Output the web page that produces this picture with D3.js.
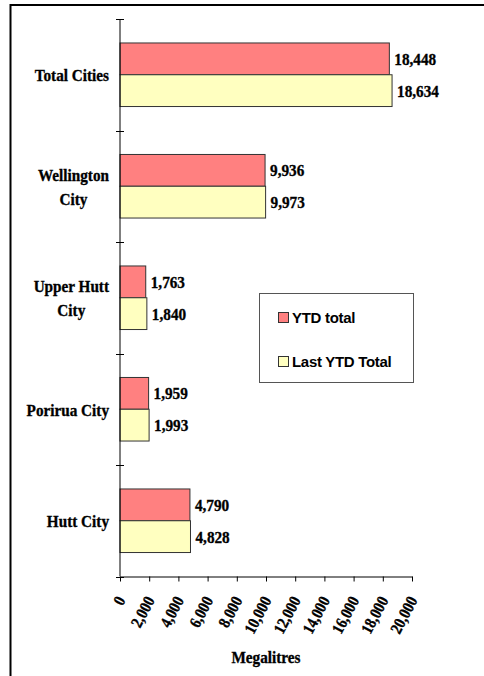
<!DOCTYPE html>
<html>
<head>
<meta charset="utf-8">
<script src="https://cdn.jsdelivr.net/npm/d3@7"></script>
<style>
  body { margin: 0; background: #fff; }
  svg { display: block; }
</style>
</head>
<body>
<svg id="chart"></svg>
<script>
// Chart data, top to bottom as drawn
const categories = ['Total Cities', 'Wellington City', 'Upper Hutt City', 'Porirua City', 'Hutt City'];
const categoryLines = [['Total Cities'], ['Wellington', 'City'], ['Upper Hutt', 'City'], ['Porirua City'], ['Hutt City']];
const seriesNames = ['YTD total', 'Last YTD Total'];
const ytdTotal = [18448, 9936, 1763, 1959, 4790];
const lastYtdTotal = [18634, 9973, 1840, 1993, 4828];
const xTickValues = [0, 2000, 4000, 6000, 8000, 10000, 12000, 14000, 16000, 18000, 20000];
const xTitle = 'Megalitres';

const colors = ['#FF8080', '#FFFFC0'];
const serif = '"Liberation Serif", "Times New Roman", serif';
const sans = '"Liberation Sans", Arial, sans-serif';
const squeeze = 0.87; // the serif text in the original is horizontally condensed

const width = 484;
const height = 676;

const svg = d3.select('#chart')
    .attr('width', width)
    .attr('height', height);

// condensed bold serif text at (tx, ty)
function serifText(parent, tx, ty, str, size, anchor, rotate) {
    const g = parent.append('g')
        .attr('transform', `translate(${tx},${ty})` + (rotate ? ` rotate(${rotate})` : '') + ` scale(${squeeze},1)`);
    return g.append('text')
        .attr('text-anchor', anchor)
        .attr('dy', '0.35em')
        .style('font-family', serif)
        .style('font-weight', 'bold')
        .style('font-size', size + 'px')
        .attr('fill', '#000')
        .attr('stroke', '#000')
        .attr('stroke-width', 0.35)
        .text(str);
}

// outer frame
svg.append('rect')
    .attr('x', 10.5).attr('y', 5)
    .attr('width', 490).attr('height', 690)
    .attr('fill', 'none')
    .attr('stroke', '#000')
    .attr('stroke-width', 2);

// plot area
const plotLeft = 120, plotRight = 412, plotTop = 19, plotBottom = 576.5;

const x = d3.scaleLinear().domain([0, 20000]).range([plotLeft, plotRight]);
const y = d3.scaleBand().domain(categories).range([plotTop, plotBottom]).padding(0);
const bw = y.bandwidth();
const inner = d3.scaleBand().domain(seriesNames).range([bw * 0.215, bw * 0.785]);

const rows = categories.map((c, i) => ({
    cat: c,
    lines: categoryLines[i],
    values: [ytdTotal[i], lastYtdTotal[i]]
}));

// bars
const group = svg.selectAll('.cat')
    .data(rows)
    .enter()
    .append('g')
    .attr('class', 'cat')
    .attr('transform', d => `translate(0,${y(d.cat)})`);

group.selectAll('rect')
    .data(d => d.values.map((v, j) => ({ name: seriesNames[j], value: v, j })))
    .enter()
    .append('rect')
    .attr('x', x(0))
    .attr('y', d => inner(d.name))
    .attr('width', d => x(d.value) - x(0))
    .attr('height', inner.bandwidth())
    .attr('fill', d => colors[d.j])
    .attr('stroke', '#333')
    .attr('stroke-width', 1);

// value labels and category labels
group.each(function (d) {
    const g = d3.select(this);
    d.values.forEach((v, j) => {
        const name = seriesNames[j];
        serifText(g, x(v) + 5, inner(name) + inner.bandwidth() / 2, d3.format(',')(v), 17.5, 'start');
    });

    // multi-line labels are centred on each other, block right-aligned to the axis
    const n = d.lines.length;
    const size = 17.5;
    const tmp = d.lines.map(line => serifText(g, 0, -9999, line, size, 'start'));
    const widths = tmp.map(t => t.node().getComputedTextLength() * squeeze);
    tmp.forEach(t => t.node().parentNode.remove());
    const cx = plotLeft - 11 - d3.max(widths) / 2;
    d.lines.forEach((line, k) => {
        serifText(g, cx, bw / 2 + 0.5 + (k - (n - 1) / 2) * 24, line, size, 'middle');
    });
});

// y axis line with ticks at band boundaries
svg.append('line')
    .attr('x1', plotLeft).attr('x2', plotLeft)
    .attr('y1', plotTop).attr('y2', plotBottom)
    .attr('stroke', '#000');

const bounds = categories.map(c => y(c)).concat([plotBottom]);
svg.selectAll('.ytick')
    .data(bounds)
    .enter()
    .append('line')
    .attr('class', 'ytick')
    .attr('x1', plotLeft - 4).attr('x2', plotLeft + 4)
    .attr('y1', d => Math.round(d) + 0.5).attr('y2', d => Math.round(d) + 0.5)
    .attr('stroke', '#000');

// x axis
const xAxis = svg.append('g')
    .attr('transform', `translate(0,${plotBottom})`)
    .call(d3.axisBottom(x).tickValues(xTickValues).tickSize(5).tickSizeOuter(0).tickFormat(d3.format(',')));

xAxis.select('.domain').attr('stroke', '#000');
xAxis.selectAll('.tick line').attr('stroke', '#000');
xAxis.selectAll('.tick text').remove();
xAxis.selectAll('.tick').each(function (d) {
    const t = serifText(d3.select(this), 4, 23, d3.format(',')(d), 16.5, 'end', -62);
    t.attr('dy', '0.1em');
});

serifText(svg, (plotLeft + plotRight) / 2, 657, xTitle, 17.5, 'middle');

// legend
const legend = svg.append('g').attr('transform', 'translate(259,293)');
legend.append('rect')
    .attr('x', 0.5).attr('y', 0.5)
    .attr('width', 154).attr('height', 89)
    .attr('fill', '#fff')
    .attr('stroke', '#555');

const item = legend.selectAll('.item')
    .data(seriesNames)
    .enter()
    .append('g')
    .attr('class', 'item')
    .attr('transform', (d, i) => `translate(19,${24 + i * 44})`);

item.append('rect')
    .attr('x', 0.5).attr('y', -4.5)
    .attr('width', 10).attr('height', 10)
    .attr('fill', (d, i) => colors[i])
    .attr('stroke', '#333');

item.append('text')
    .attr('x', 14)
    .attr('y', 1)
    .attr('dy', '0.35em')
    .style('font-family', sans)
    .style('font-weight', 'bold')
    .style('font-size', '15px')
    .style('letter-spacing', '-0.3px')
    .text(d => d);
</script>
</body>
</html>
